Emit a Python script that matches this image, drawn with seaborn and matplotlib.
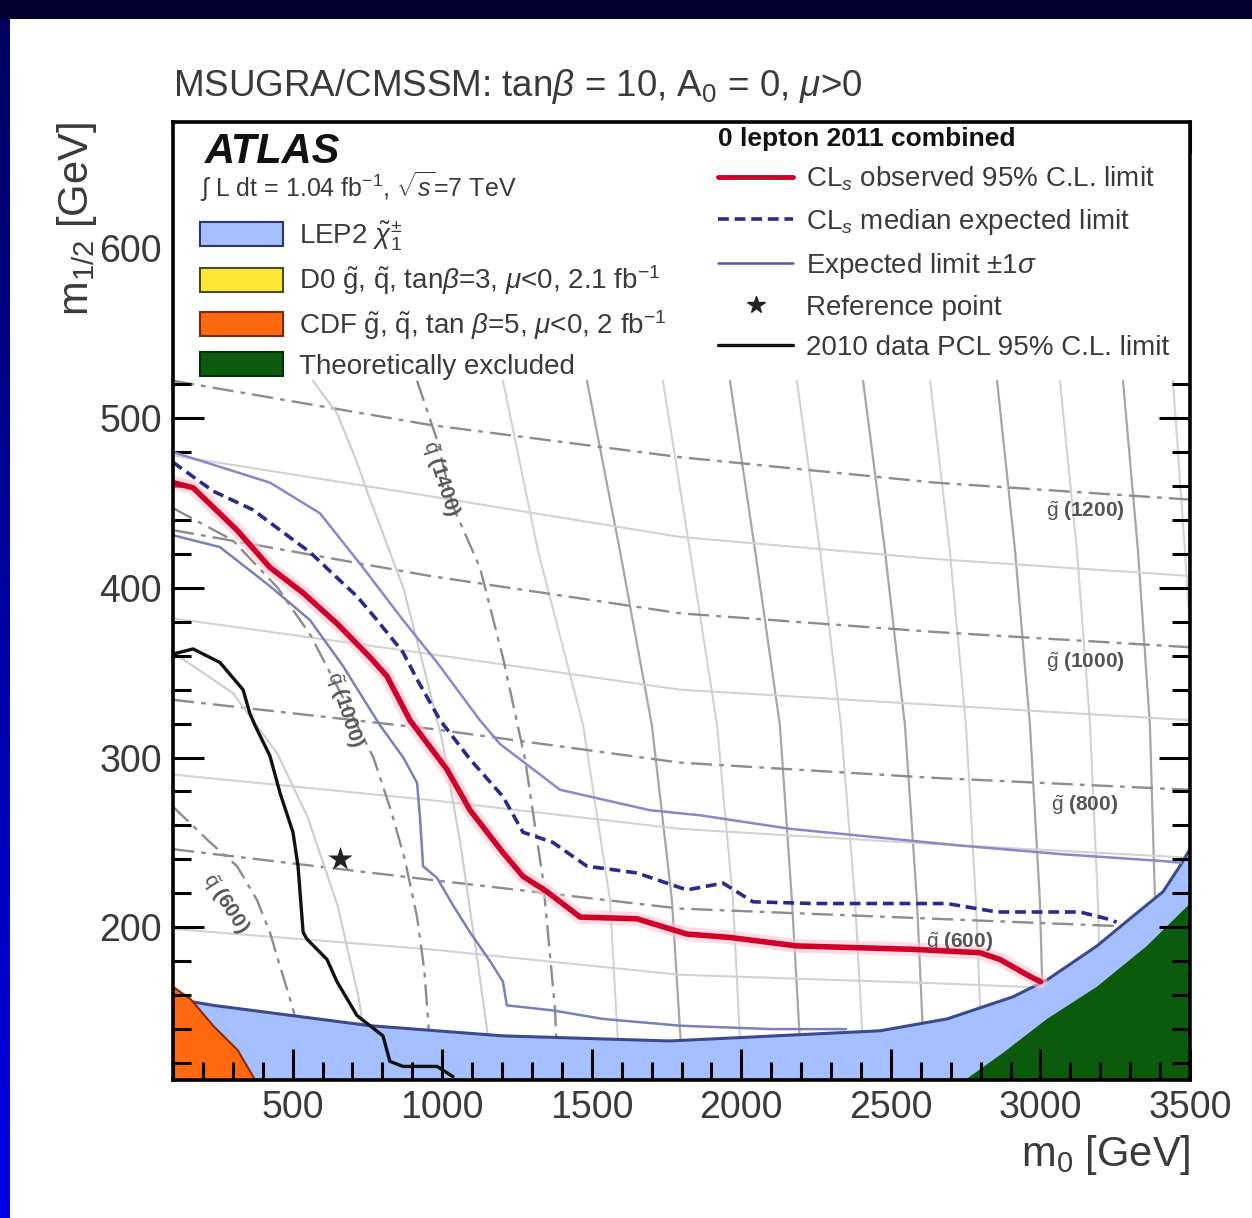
import matplotlib
matplotlib.use("Agg")
import matplotlib.pyplot as plt
import numpy as np
import pandas as pd
import seaborn as sns
from matplotlib.patches import Patch, Rectangle
from matplotlib.lines import Line2D
from matplotlib.ticker import MultipleLocator
from matplotlib.colors import LinearSegmentedColormap

# ------------------------------
# Values (m0, m1/2 in GeV)
# ------------------------------
obs_m0 = [100, 167, 314, 424, 535, 648, 759, 815, 892, 1016, 1093, 1203, 1270, 1350,
          1461, 1651, 1818, 1962, 2186, 2574, 2798, 2865, 2965, 3000]
obs_m12 = [462, 459, 434, 412, 397, 379, 359, 348, 322, 293, 269, 244, 230, 221,
           206, 205, 196, 194, 189, 187, 185, 181, 171, 168]

exp_m0 = [100, 234, 367, 458, 558, 648, 715, 782, 869, 916, 993, 1093, 1203, 1270, 1370,
          1451, 1484, 1651, 1818, 1939, 2039, 2240, 2687, 2854, 3132, 3222, 3255]
exp_m12 = [474, 457, 446, 434, 421, 406, 395, 381, 362, 346, 322, 299, 277, 256, 250,
           240, 236, 232, 222, 226, 215, 214, 214, 209, 209, 205, 203]

exp_up_m0 = [100, 424, 591, 735, 869, 983, 1126, 1193, 1394, 1694, 1861, 2163, 2741, 3075, 3410, 3470]
exp_up_m12 = [480, 462, 444, 412, 381, 356, 322, 308, 281, 269, 266, 258, 248, 243, 239, 238]

exp_dn_m0 = [100, 257, 424, 558, 668, 792, 870, 916, 926, 936, 983, 1036, 1093, 1160,
             1203, 1216, 1370, 1537, 1795, 2100, 2350]
exp_dn_m12 = [431, 424, 401, 381, 354, 319, 300, 285, 264, 236, 229, 213, 197, 180,
              168, 154, 151, 146, 142, 140, 140]

pcl_m0 = [100, 167, 257, 334, 357, 374, 424, 458, 501, 518, 535, 548, 615, 648, 715,
          802, 825, 869, 983, 1036]
pcl_m12 = [361, 364, 356, 340, 326, 319, 301, 279, 256, 236, 197, 193, 181, 168, 148,
           136, 121, 118, 118, 112]

ref_m0 = [660]
ref_m12 = [240]

lep_m0 = [100, 234, 759, 1203, 1761, 2464, 2688, 2908, 3022, 3189, 3299, 3410, 3466, 3500]
lep_m12 = [158, 154, 142, 136, 133, 139, 146, 159, 169, 189, 205, 221, 236, 246]

theo_m0 = [2748, 2875, 3022, 3189, 3356, 3500]
theo_m12 = [110, 126, 146, 165, 189, 214]

cdf_m0 = [100, 157, 234, 314, 374]
cdf_m12 = [165, 158, 142, 128, 110]

# squark iso-mass lines
sq600_m0 = [100, 224, 314, 381, 424, 458, 501, 525, 541]
sq600_m12 = [271, 250, 236, 216, 197, 177, 152, 134, 111]
sq800_m0 = [100, 300, 450, 550, 650, 720, 760]
sq800_m12 = [362, 338, 302, 265, 213, 159, 114]
sq1000_m0 = [100, 300, 450, 560, 690, 770, 830, 875, 916, 940, 955, 962]
sq1000_m12 = [447, 428, 400, 372, 328, 300, 268, 240, 206, 175, 140, 111]
sq1200_m0 = [568, 648, 715, 759, 802, 870, 930, 1000, 1060, 1110, 1150, 1165]
sq1200_m12 = [522, 503, 474, 452, 432, 400, 359, 310, 250, 190, 140, 111]
sq1400_m0 = [916, 983, 1036, 1126, 1203, 1277, 1337, 1377, 1387]
sq1400_m12 = [522, 487, 448, 412, 359, 299, 228, 152, 111]

# mesh of faint iso-mass lines: near-vertical ones at fixed m1/2 levels
mesh_v_m12 = [522, 422, 319, 216, 111]
mesh_v_m0 = [
    [1203, 1320, 1471, 1561, 1594],
    [1484, 1594, 1701, 1768, 1805],
    [1738, 1828, 1919, 1972, 2002],
    [1962, 2046, 2129, 2169, 2203],
    [2186, 2263, 2333, 2380, 2413],
    [2407, 2480, 2547, 2587, 2614],
    [2631, 2697, 2751, 2784, 2808],
    [2855, 2915, 2965, 2998, 3015],
    [3065, 3122, 3166, 3192, 3209],
    [3276, 3326, 3366, 3383, 3400],
    [3443, 3483, 3520, 3540, 3550],
]
# near-horizontal (gluino) ones at fixed m0 positions
mesh_h_m0 = [100, 959, 1795, 2647, 3500]
gl_labeled_m12 = [
    [522, 496, 477, 462, 452],   # g(1200)
    [434, 407, 385, 374, 365],   # g(1000)
    [334, 317, 297, 288, 281],   # g(800)
    [246, 228, 211, 205, 199],   # g(600)
]
gl_light_m12 = [
    [478, 454, 430, 417, 407],
    [382, 361, 340, 331, 322],
    [290, 275, 258, 249, 241],
    [199, 187, 172, 167, 161],
]

gl_labels = [r"$\tilde{\mathrm{g}}$ (1200)", r"$\tilde{\mathrm{g}}$ (1000)",
             r"$\tilde{\mathrm{g}}$ (800)", r"$\tilde{\mathrm{g}}$ (600)"]
gl_label_m0 = [3149, 3149, 3149, 2731]
gl_label_m12 = [445, 356, 272, 191]
sq_labels = [r"$\tilde{\mathrm{q}}$ (600)", r"$\tilde{\mathrm{q}}$ (1000)", r"$\tilde{\mathrm{q}}$ (1400)"]
sq_label_m0 = [274, 675, 993]
sq_label_m12 = [214, 328, 464]
sq_label_rot = [-57, -72, -72]

legend_left = ["LEP2 $\\tilde{\\chi}_{1}^{\\pm}$",
               "D0 $\\tilde{\\mathrm{g}}$, $\\tilde{\\mathrm{q}}$, tan$\\beta$=3, $\\mu$<0, 2.1 fb$^{-1}$",
               "CDF $\\tilde{\\mathrm{g}}$, $\\tilde{\\mathrm{q}}$, tan $\\beta$=5, $\\mu$<0, 2 fb$^{-1}$",
               "Theoretically excluded"]
legend_right = ["CL$_{s}$ observed 95% C.L. limit",
                "CL$_{s}$ median expected limit",
                "Expected limit $\\pm1\\sigma$",
                "Reference point",
                "2010 data PCL 95% C.L. limit"]

XMIN, XMAX, YMIN, YMAX = 100, 3500, 110, 674.5

# ------------------------------
# Style
# ------------------------------
sns.set_theme(style="ticks")
plt.rcParams["font.family"] = ["Liberation Sans", "DejaVu Sans"]
plt.rcParams["mathtext.fontset"] = "custom"
plt.rcParams["mathtext.rm"] = "Liberation Sans"
plt.rcParams["mathtext.it"] = "Liberation Sans:italic"
plt.rcParams["mathtext.bf"] = "Liberation Sans:bold"
TXT = "#3a3a3a"

fig = plt.figure(figsize=(12.52, 12.18), dpi=100)
fig.patch.set_facecolor("white")
ax = fig.add_axes([0.13818, 0.11330, 0.81230, 0.78654])
ax.set_axisbelow(False)

# slide frame: dark top band and blue gradient strip on the left
fig.patches.append(Rectangle((0, 1 - 19 / 1218), 1, 19 / 1218, transform=fig.transFigure,
                             facecolor="#00002e", edgecolor="none", zorder=0))
axg = fig.add_axes([0, 0, 10 / 1252, 1 - 19 / 1218])
axg.imshow(np.linspace(0, 1, 256).reshape(-1, 1), aspect="auto",
           cmap=LinearSegmentedColormap.from_list("frame", ["#000060", "#0000e6"]))
axg.axis("off")

# ------------------------------
# Mesh lines
# ------------------------------
def mesh_frame(xs_list, ys_list):
    rows = []
    for i, (xs, ys) in enumerate(zip(xs_list, ys_list)):
        for x, y in zip(xs, ys):
            rows.append((i, x, y))
    return pd.DataFrame(rows, columns=["line", "m0", "m12"])

vert = mesh_frame(mesh_v_m0, [mesh_v_m12] * len(mesh_v_m0))
vert_light = vert[vert["line"] % 2 == 0]
vert_dark = vert[vert["line"] % 2 == 1]
sns.lineplot(data=vert_light, x="m0", y="m12", units="line", estimator=None, sort=False,
             color="#d2d2d2", lw=1.5, legend=False, ax=ax, zorder=1)
sns.lineplot(data=vert_dark, x="m0", y="m12", units="line", estimator=None, sort=False,
             color="#a6a6a6", lw=1.6, legend=False, ax=ax, zorder=1)

hor_light = mesh_frame([mesh_h_m0] * len(gl_light_m12), gl_light_m12)
sns.lineplot(data=hor_light, x="m0", y="m12", units="line", estimator=None, sort=False,
             color="#d2d2d2", lw=1.5, legend=False, ax=ax, zorder=1)
hor_lab = mesh_frame([mesh_h_m0] * len(gl_labeled_m12), gl_labeled_m12)
sns.lineplot(data=hor_lab, x="m0", y="m12", units="line", estimator=None, sort=False,
             color="#8c8c8c", lw=1.7, ls=(0, (9, 3, 2, 3)), legend=False, ax=ax, zorder=1)

for xs, ys in [(sq800_m0, sq800_m12), (sq1200_m0, sq1200_m12)]:
    sns.lineplot(x=xs, y=ys, sort=False, estimator=None, color="#cdcdcd", lw=1.5, ax=ax, zorder=1)
for xs, ys in [(sq600_m0, sq600_m12), (sq1000_m0, sq1000_m12), (sq1400_m0, sq1400_m12)]:
    sns.lineplot(x=xs, y=ys, sort=False, estimator=None, color="#8c8c8c", lw=1.7,
                 ls=(0, (9, 3, 2, 3)), ax=ax, zorder=1)

for t, x, y in zip(gl_labels, gl_label_m0, gl_label_m12):
    ax.text(x, y, t, fontsize=15, fontweight="bold", color="#555555", ha="center", va="center", zorder=3)
for t, x, y, r in zip(sq_labels, sq_label_m0, sq_label_m12, sq_label_rot):
    ax.text(x, y, t, fontsize=15, fontweight="bold", color="#555555", ha="center", va="center",
            rotation=r, rotation_mode="anchor", zorder=3)

# ------------------------------
# Excluded regions
# ------------------------------
ax.fill_between(lep_m0, YMIN, lep_m12, facecolor="#a6c0ff", edgecolor="none", zorder=2)
ax.plot(lep_m0, lep_m12, color="#3c4a8c", lw=2.2, zorder=2.1)
ax.fill_between(theo_m0, YMIN, theo_m12, facecolor="#0c5a0c", edgecolor="none", zorder=2.2)
ax.fill_between(cdf_m0, YMIN, cdf_m12, facecolor="#ff6a10", edgecolor="#8b2a10", lw=1.5, zorder=2.2)

# ------------------------------
# Limit curves
# ------------------------------
sns.lineplot(x=exp_up_m0, y=exp_up_m12, sort=False, estimator=None, color="#8a86cc", lw=1.8, ax=ax, zorder=3)
sns.lineplot(x=exp_dn_m0, y=exp_dn_m12, sort=False, estimator=None, color="#7a80b8", lw=1.8, ax=ax, zorder=3)
sns.lineplot(x=exp_m0, y=exp_m12, sort=False, estimator=None, color="#2a2a8c", lw=2.6,
             ls=(0, (3, 1.6)), ax=ax, zorder=3)
sns.lineplot(x=pcl_m0, y=pcl_m12, sort=False, estimator=None, color="#111111", lw=2.4, ax=ax, zorder=3)
sns.lineplot(x=obs_m0, y=obs_m12, sort=False, estimator=None, color="#ffc4cf", lw=10,
             alpha=0.6, ax=ax, zorder=2.9)
sns.lineplot(x=obs_m0, y=obs_m12, sort=False, estimator=None, color="#d0002a", lw=4, ax=ax, zorder=3.1)
sns.scatterplot(x=ref_m0, y=ref_m12, marker="*", s=330, color="#222222", edgecolor="none", ax=ax, zorder=3.2)

# ------------------------------
# Axes
# ------------------------------
ax.set_xlim(XMIN, XMAX)
ax.set_ylim(YMIN, YMAX)
ax.set_xticks([500, 1000, 1500, 2000, 2500, 3000, 3500])
ax.set_yticks([200, 300, 400, 500, 600])
ax.xaxis.set_minor_locator(MultipleLocator(100))
ax.yaxis.set_minor_locator(MultipleLocator(20))
ax.tick_params(which="both", direction="in", top=True, right=True, width=2.2, color="black",
               labelsize=27, labelcolor=TXT)
ax.tick_params(which="major", length=22)
ax.tick_params(which="minor", length=13)
ax.tick_params(axis="x", pad=7)
ax.tick_params(axis="y", pad=8)
for s in ax.spines.values():
    s.set_linewidth(2.6)
    s.set_color("black")
    s.set_zorder(5)

ax.set_xlabel(r"m$_{0}$ [GeV]", fontsize=30, color=TXT, loc="right")
ax.xaxis.set_label_coords(1.0, -0.055)
ax.set_ylabel(r"m$_{1/2}$ [GeV]", fontsize=30, color=TXT, loc="top")
ax.yaxis.set_label_coords(-0.073, 1.0)

# white legend area on top of the plot
ax.add_patch(Rectangle((0, 0.7328), 1, 0.2672, transform=ax.transAxes, facecolor="white",
                       edgecolor="none", zorder=4))

fig.text(0.1382, 0.9212, r"MSUGRA/CMSSM: tan$\beta$ = 10, A$_{0}$ = 0, $\mu$>0",
         fontsize=26.5, color=TXT, ha="left", va="baseline")
ax.text(0.0315, 0.9572, "ATLAS", transform=ax.transAxes, fontsize=30, fontweight="bold",
        fontstyle="italic", color="#111111", ha="left", va="baseline", zorder=6)
ax.text(0.0265, 0.9322, r"$\int$ L dt = 1.04 fb$^{-1}$, $\sqrt{s}$=7 TeV", transform=ax.transAxes,
        fontsize=18, color=TXT, ha="left", va="center", zorder=6)

left_handles = [Patch(facecolor="#a6c0ff", edgecolor="#2e3470", lw=1.5),
                Patch(facecolor="#ffe833", edgecolor="#4a4a22", lw=1.5),
                Patch(facecolor="#ff6a10", edgecolor="#7a2a10", lw=1.5),
                Patch(facecolor="#0c5a0c", edgecolor="#063006", lw=1.5)]
leg1 = ax.legend(left_handles, legend_left, loc="upper left", bbox_to_anchor=(0.0266, 0.8987),
                 frameon=False, fontsize=20, handlelength=3.0, handleheight=0.95, handletextpad=0.55,
                 labelspacing=0.38, borderpad=0, borderaxespad=0, labelcolor=TXT)
leg1.set_zorder(6)
ax.add_artist(leg1)

right_handles = [Line2D([], [], color="#d0002a", lw=3.5),
                 Line2D([], [], color="#2a2a8c", lw=2.6, ls=(0, (3, 1.6))),
                 Line2D([], [], color="#5a58b0", lw=1.8),
                 Line2D([], [], ls="none", marker="*", ms=13, color="#222222"),
                 Line2D([], [], color="#111111", lw=2.4)]
leg2 = ax.legend(right_handles, legend_right, loc="upper left", bbox_to_anchor=(0.536, 0.995),
                 frameon=False, fontsize=20, handlelength=2.7, handletextpad=0.45,
                 labelspacing=0.5, borderpad=0, borderaxespad=0, labelcolor=TXT,
                 title="0 lepton 2011 combined", title_fontproperties={"weight": "bold", "size": 19},
                 alignment="left")
leg2.get_title().set_color("#111111")
leg2.set_zorder(6)

fig.savefig("out.png", dpi=100, facecolor=fig.get_facecolor())
